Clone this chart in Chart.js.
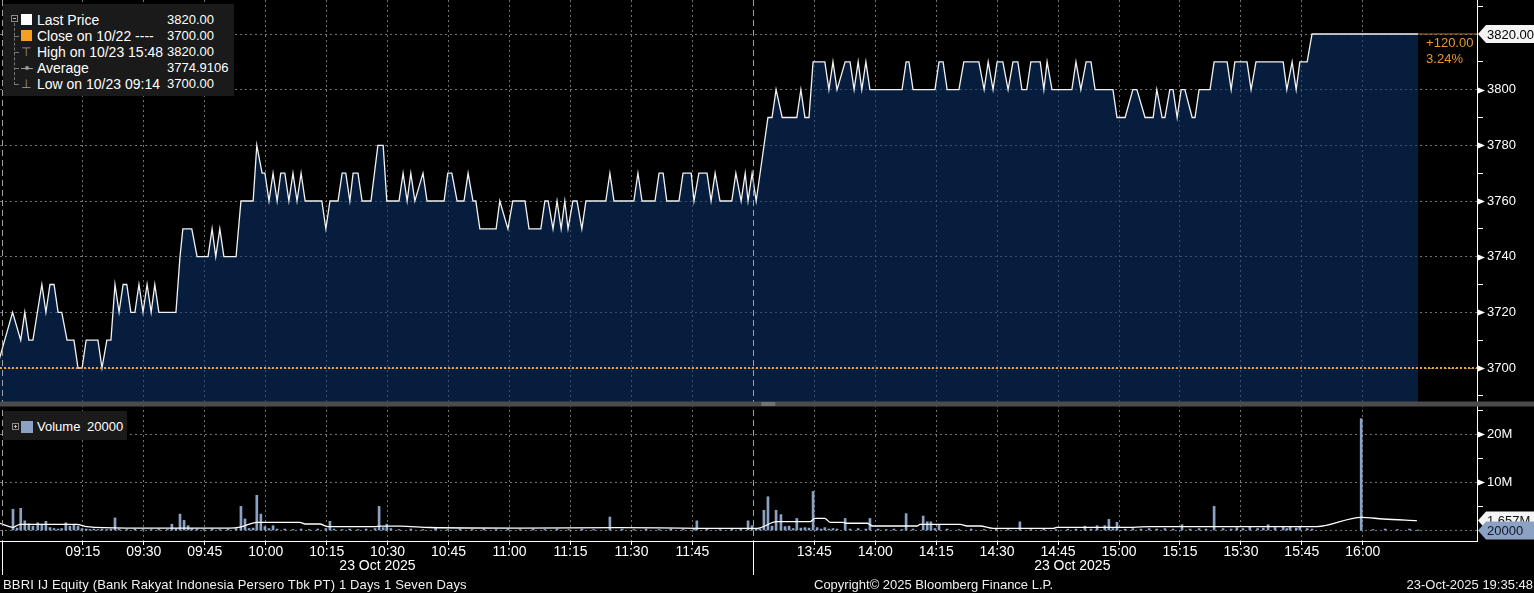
<!DOCTYPE html>
<html lang="en">
<head>
<meta charset="UTF-8">
<title>BBRI IJ Equity - intraday</title>
<script src="https://cdn.jsdelivr.net/npm/chart.js"></script>
<style>
    body {
        margin: 0;
        width: 1534px;
        height: 593px;
        overflow: hidden;
        position: relative;
        background: #000;
        color: #fff;
        font-family: "Liberation Sans", Arial, sans-serif;
    }
    #chart { position: absolute; left: 0; top: 0; }
    .legend {
        position: absolute;
        background: #1a1a1a;
        font-size: 14px;
        line-height: 16px;
        white-space: nowrap;
    }
    .legend span { position: absolute; }
    .sq { position: absolute; width: 11px; height: 11px; }
    .expander {
        position: absolute; width: 5px; height: 5px;
        border: 1px solid #8a8a8a; font-size: 0;
    }
    .expander::after {
        content: ""; position: absolute; left: 1px; top: 2px; width: 3px; height: 1px; background: #bbb;
    }
    .expander.plus::before {
        content: ""; position: absolute; left: 2px; top: 1px; width: 1px; height: 3px; background: #bbb;
    }
    .tree { position: absolute; border-left: 1px dashed #777; }
    .branch { position: absolute; border-top: 1px dashed #777; width: 5px; }
    .glyph { color: #9a9a9a; font-size: 12px; }
    .footer {
        position: absolute; top: 577px; font-size: 13px; line-height: 15px; color: #f0f0f0; white-space: nowrap;
    }
</style>
</head>
<body>
<canvas id="chart" width="1534" height="593"></canvas>

<div id="priceLegend" class="legend" style="left:3px;top:4px;width:231px;height:92px;"></div>
<div id="volLegend" class="legend" style="left:3px;top:411px;width:124px;height:29px;"></div>

<div class="footer" style="left:3px;letter-spacing:0.15px;">BBRI IJ Equity (Bank Rakyat Indonesia Persero Tbk PT) 1 Days 1 Seven Days</div>
<div class="footer" style="left:814px;">Copyright© 2025 Bloomberg Finance L.P.</div>
<div class="footer" style="right:1px;">23-Oct-2025 19:35:48</div>

<script>
    // times are trading minutes since 09:00, with the 12:00-13:30 lunch break removed
    const priceTimes = [
        -6.2, -2.3, -0.3, 0.7, 1.7, 2.7, 4.9, 5.9, 6.9, 7.9, 8.9, 9.8, 11.1, 12.8, 13.8, 14.8,
        15.8, 18.7, 19.7, 20.9, 21.9, 22.9, 23.9, 24.9, 25.8, 26.8, 27.8, 28.8, 29.8, 30.8, 31.8, 32.7,
        33.7, 37.9, 38.9, 39.6, 41.8, 43.1, 45.8, 46.8, 47.7, 48.7, 49.7, 52.7, 53.9, 56.9, 57.8, 59.1,
        59.8, 60.8, 61.8, 62.8, 63.7, 64.7, 65.7, 66.7, 67.7, 68.7, 69.7, 73.8, 74.8, 75.8, 77.8, 78.8,
        79.7, 80.7, 81.5, 82.7, 83.7, 85.9, 87.6, 88.9, 89.8, 92.8, 93.8, 94.8, 95.7, 96.7, 98.7, 99.7,
        103.9, 104.8, 105.8, 107.1, 108.8, 109.8, 111.0, 111.7, 112.7, 116.7, 117.6, 119.6, 120.8, 123.8, 124.8, 127.7,
        128.7, 129.5, 130.7, 131.7, 132.7, 133.6, 134.4, 135.6, 136.6, 137.8, 138.8, 143.7, 144.7, 145.7, 150.6, 151.6,
        152.6, 155.8, 156.8, 157.8, 158.7, 161.7, 162.7, 164.7, 165.4, 166.6, 168.6, 169.6, 170.6, 171.8, 174.7, 175.7,
        177.0, 178.0, 178.7, 179.7, 180.7, 183.6, 184.6, 185.6, 187.1, 190.7, 191.7, 192.7, 193.7, 194.7, 197.6, 198.6,
        199.6, 200.6, 202.6, 203.8, 204.8, 205.8, 206.7, 207.7, 208.7, 216.6, 217.6, 218.3, 219.3, 224.7, 225.7, 226.7,
        227.7, 230.6, 231.8, 235.5, 236.8, 237.8, 239.0, 240.0, 241.4, 242.7, 243.9, 245.1, 246.1, 247.3, 248.3, 250.6,
        251.5, 252.3, 253.5, 258.4, 259.4, 260.6, 261.9, 263.1, 264.1, 268.5, 269.5, 271.5, 273.4, 274.4, 276.4, 278.4,
        279.3, 280.6, 281.3, 282.5, 283.3, 284.3, 285.3, 286.2, 288.0, 288.7, 289.7, 292.4, 293.4, 296.6, 297.6, 298.5,
        301.5, 302.5, 303.7, 310.4, 311.3, 312.6, 313.6, 314.5, 316.3, 317.5, 343.6
    ];
    const priceValues = [
        3700, 3720, 3710, 3720, 3710, 3710, 3730, 3720, 3730, 3730, 3720, 3720, 3710, 3710, 3700, 3700,
        3710, 3710, 3700, 3710, 3710, 3730, 3720, 3730, 3730, 3720, 3720, 3730, 3720, 3730, 3720, 3730,
        3720, 3720, 3740, 3750, 3750, 3740, 3740, 3750, 3740, 3750, 3740, 3740, 3760, 3760, 3780, 3770,
        3770, 3760, 3770, 3760, 3770, 3770, 3760, 3770, 3760, 3770, 3760, 3760, 3750, 3760, 3760, 3770,
        3770, 3760, 3770, 3770, 3760, 3760, 3780, 3780, 3760, 3760, 3770, 3760, 3770, 3760, 3770, 3760,
        3760, 3770, 3770, 3760, 3760, 3770, 3760, 3760, 3750, 3750, 3760, 3750, 3760, 3760, 3750, 3750,
        3760, 3760, 3750, 3760, 3750, 3760, 3750, 3760, 3760, 3750, 3760, 3760, 3770, 3760, 3760, 3770,
        3760, 3760, 3770, 3770, 3760, 3760, 3770, 3770, 3760, 3770, 3770, 3760, 3770, 3760, 3760, 3770,
        3760, 3770, 3760, 3770, 3760, 3790, 3790, 3800, 3790, 3790, 3800, 3790, 3790, 3810, 3810, 3800,
        3810, 3800, 3810, 3810, 3800, 3810, 3800, 3810, 3800, 3800, 3810, 3810, 3800, 3800, 3810, 3810,
        3800, 3800, 3810, 3810, 3800, 3810, 3800, 3810, 3810, 3800, 3810, 3810, 3800, 3800, 3810, 3810,
        3800, 3810, 3800, 3800, 3810, 3800, 3810, 3810, 3800, 3800, 3790, 3790, 3800, 3800, 3790, 3790,
        3800, 3790, 3790, 3800, 3800, 3790, 3800, 3800, 3790, 3790, 3800, 3800, 3810, 3810, 3800, 3810,
        3810, 3800, 3810, 3810, 3800, 3810, 3800, 3810, 3810, 3820, 3820
    ];

    // volume per minute, millions of shares
    const volumeTimes = [
        -2.2, -1.2, -0.3, 0.7, 1.7, 2.7, 3.9, 4.9, 5.9, 6.9, 7.9, 8.9, 9.8, 10.8, 11.8, 12.8,
        13.8, 14.8, 15.8, 16.7, 17.7, 18.7, 19.7, 20.9, 21.9, 22.9, 23.9, 25.8, 27.8, 29.8, 31.8, 33.7,
        35.8, 36.9, 37.9, 38.9, 39.9, 40.9, 41.8, 43.1, 44.8, 46.8, 48.7, 50.7, 52.7, 53.9, 54.9, 55.9,
        56.9, 57.8, 58.8, 59.8, 60.8, 61.8, 62.8, 64.7, 66.7, 68.7, 70.7, 72.8, 74.8, 75.8, 76.8, 78.8,
        80.7, 82.7, 84.7, 86.9, 87.9, 88.9, 89.8, 90.8, 92.8, 95.7, 98.7, 101.8, 104.8, 107.8, 110.8, 113.7,
        116.7, 119.6, 122.6, 125.8, 128.7, 131.7, 134.6, 137.8, 140.7, 144.7, 147.7, 150.6, 153.6, 156.8, 159.7, 162.7,
        165.4, 166.1, 168.6, 171.8, 174.7, 176.9, 178.7, 179.7,
        180.7, 181.6, 182.6, 183.6, 184.6, 185.6, 186.8, 187.8, 188.8, 189.8, 190.7, 191.7, 192.7, 193.7, 194.7, 195.7,
        196.7, 197.6, 198.6, 199.6, 200.6, 202.6, 203.8, 205.8, 207.7, 208.7, 210.7, 212.7, 214.6, 216.6, 217.6, 219.3,
        221.8, 222.8, 223.7, 224.7, 225.7, 227.7, 230.6, 233.6, 236.8, 239.8, 242.7, 245.6, 248.3, 251.5, 254.5, 257.4,
        259.4, 261.6, 263.1, 264.6, 266.5, 267.5, 268.5, 269.5, 271.5, 273.4, 275.4, 277.4, 279.3, 281.3, 283.3, 285.5,
        287.5, 289.7, 291.4, 293.4, 295.6, 297.6, 299.0, 300.5, 302.2, 304.1, 305.5, 306.7, 308.4, 310.4, 311.3, 312.1,
        313.6, 314.5, 316.3, 317.5, 329.6, 332.5, 335.5, 338.5, 341.5, 343.6
    ];
    const volumeValues = [
        4.4, 0.5, 4.6, 2.0, 1.4, 0.9, 1.6, 1.3, 1.9, 0.6, 0.4, 0.3, 0.4, 1.6, 0.9, 1.1,
        0.9, 0.4, 0.3, 0.2, 0.3, 0.2, 0.3, 0.2, 0.3, 2.6, 0.3, 0.2, 0.3, 0.2, 0.2, 0.3,
        0.2, 1.3, 0.4, 3.4, 2.1, 1.0, 0.4, 0.3, 0.2, 0.3, 0.2, 0.3, 0.4, 5.0, 2.4, 0.4,
        0.5, 7.3, 3.4, 0.8, 0.4, 1.0, 0.3, 0.3, 0.2, 0.3, 0.2, 0.3, 0.4, 1.9, 0.3, 0.2,
        0.3, 0.2, 0.3, 0.4, 5.0, 0.6, 1.3, 0.4, 0.2, 0.3, 0.2, 0.5, 0.2, 0.3, 0.2, 0.3,
        0.2, 0.3, 0.2, 0.3, 0.2, 0.3, 0.2, 0.3, 0.2, 2.8, 0.3, 0.2, 0.3, 0.2, 0.3, 0.2,
        0.3, 2.0, 0.3, 0.2, 0.3, 0.4, 2.0, 1.0,
        0.3, 0.4, 4.2, 7.0, 0.9, 4.2, 3.3, 0.8, 0.9, 0.4, 2.5, 0.5, 0.6, 0.5, 8.1, 0.6,
        0.3, 0.6, 0.3, 0.4, 0.3, 2.5, 0.3, 0.4, 0.3, 2.5, 0.3, 0.2, 0.3, 0.2, 3.5, 0.3,
        3.0, 1.8, 1.8, 0.4, 1.1, 0.3, 0.2, 0.3, 0.2, 0.3, 0.2, 1.8, 0.2, 0.3, 0.2, 0.3,
        0.3, 0.9, 0.3, 1.0, 1.0, 2.3, 0.4, 1.7, 0.3, 0.4, 0.3, 0.4, 0.3, 0.4, 0.3, 1.2,
        0.3, 0.4, 0.3, 5.0, 0.4, 0.3, 0.6, 0.4, 0.8, 0.4, 0.5, 1.2, 0.6, 0.8, 0.4, 0.7,
        0.5, 0.8, 0.4, 0.3, 23.2, 0.2, 0.3, 0.2, 0.3, 0.02
    ];

    // volume moving average (white line), millions
    const volumeAvgTimes = [
        -5.4, -2.2, -0.5, 13.5, 16.0, 25.8, 51.2, 53.7, 57.8, 68.4, 69.7, 73.3, 75.3, 86.9, 88.1, 93.0,
        100.4, 122.6, 147.2, 166.9, 180.9, 185.8, 194.0, 195.2, 197.6, 198.9, 202.1, 203.0, 208.0, 209.4, 220.3, 221.0,
        230.9, 232.6, 235.8, 239.0, 253.8, 254.7, 273.4, 277.6, 318.7, 329.6, 335.0, 343.3
    ];
    const volumeAvgValues = [
        1.5, 0.66, 1.28, 1.28, 0.8, 0.5, 0.5, 0.7, 1.7, 1.7, 1.35, 1.35, 0.8, 0.8, 0.9, 0.9,
        0.62, 0.5, 0.6, 0.45, 0.45, 1.82, 1.82, 2.5, 2.5, 1.7, 1.7, 1.5, 1.5, 0.93, 0.93, 1.28,
        1.28, 0.93, 0.93, 0.45, 0.45, 0.66, 0.66, 0.8, 0.8, 2.73, 2.38, 2.03
    ];

    const xTickLabels = ['09:15', '09:30', '09:45', '10:00', '10:15', '10:30', '10:45', '11:00', '11:15', '11:30', '11:45',
                         '13:45', '14:00', '14:15', '14:30', '14:45', '15:00', '15:15', '15:30', '15:45', '16:00'];
    const priceTicks = [3690, 3700, 3710, 3720, 3730, 3740, 3750, 3760, 3770, 3780, 3790, 3800, 3810, 3820, 3830];
    const volumeTicks = [0, 5, 10, 15, 20, 25];
    const sessions = [['08:55', '12:00'], ['13:30', '16:07']];
    const dateLabel = '23 Oct 2025';

    const lastPrice = 3820, prevClose = 3700, dayHigh = 3820, dayLow = 3700, avgPrice = 3774.9106;
    const lastVolume = 0.02, lastVolumeAvg = 1.657;

    function sessionMin(hhmm) {
        const [h, m] = hhmm.split(':').map(Number);
        const mins = h * 60 + m;
        return mins <= 720 ? mins - 540 : 180 + mins - 810;
    }
    function clock(t) {
        const mins = Math.round(t <= 180 ? 540 + t : 810 + (t - 180));
        return String(Math.floor(mins / 60)).padStart(2, '0') + ':' + String(mins % 60).padStart(2, '0');
    }
    const toXY = (ts, vs) => ts.map((t, i) => ({ x: t, y: vs[i] }));

    // ---- legends ----
    const legendRows = [
        { icon: 'sq', color: '#ffffff', label: 'Last Price', value: lastPrice.toFixed(2) },
        { icon: 'sq', color: '#f5a023', label: 'Close on 10/22 ----', value: prevClose.toFixed(2) },
        { icon: 'hi', label: 'High on 10/23 15:48', value: dayHigh.toFixed(2) },
        { icon: 'avg', label: 'Average', value: avgPrice.toFixed(4) },
        { icon: 'lo', label: 'Low on 10/23 09:14', value: dayLow.toFixed(2) }
    ];
    const pl = document.getElementById('priceLegend');
    let html = '<div class="expander" style="left:8px;top:11px"></div>' +
               '<div class="tree" style="left:11px;top:19px;height:62px"></div>';
    legendRows.forEach((r, i) => {
        const top = 8 + i * 16;
        if (i > 0) html += `<div class="branch" style="left:11px;top:${top + 8}px"></div>`;
        if (r.icon === 'sq') html += `<div class="sq" style="left:18px;top:${top + 2}px;background:${r.color}"></div>`;
        if (r.icon === 'hi') html += `<span class="glyph" style="left:18px;top:${top}px">⊤</span>`;
        if (r.icon === 'lo') html += `<span class="glyph" style="left:18px;top:${top}px">⊥</span>`;
        if (r.icon === 'avg') html += `<div style="position:absolute;left:18px;top:${top + 8}px;width:12px;border-top:1px solid #9a9a9a"></div>` +
                                      `<div style="position:absolute;left:22px;top:${top + 6}px;width:4px;height:4px;border-radius:2px;background:#9a9a9a"></div>`;
        html += `<span style="left:34px;top:${top}px">${r.label}</span>`;
        html += `<span style="left:164px;top:${top}px;font-size:13px">${r.value}</span>`;
    });
    pl.innerHTML = html;

    document.getElementById('volLegend').innerHTML =
        '<div class="expander plus" style="left:9px;top:12px"></div>' +
        '<div class="sq" style="left:18px;top:10px;width:12px;height:12px;background:#8ca2c4"></div>' +
        '<span style="left:34px;top:8px;font-size:13px">Volume</span>' +
        `<span style="left:84px;top:8px;font-size:13px">${Math.round(lastVolume * 1e6)}</span>`;

    // ---- chart ----
    const X_MIN = -5.4, X_MAX = 358.1;
    const gridColor = 'rgba(185,185,185,0.62)';

    const overlay = {
        id: 'overlay',
        afterDatasetsDraw(chart) {
            const { ctx, chartArea, scales: { x } } = chart;
            ctx.save();
            ctx.strokeStyle = '#a0a0a0';
            ctx.lineWidth = 1;
            ctx.setLineDash([6, 4]);
            sessions.forEach(s => {
                const px = Math.round(x.getPixelForValue(sessionMin(s[0]))) + 0.5;
                ctx.beginPath(); ctx.moveTo(px, chartArea.top); ctx.lineTo(px, chartArea.bottom); ctx.stroke();
            });
            ctx.restore();
        },
        afterDraw(chart) {
            const { ctx, chartArea, scales: { x, y, yv } } = chart;
            ctx.save();

            // separator between price and volume panes
            ctx.fillStyle = '#4b4b4b';
            ctx.fillRect(0, yv.top - 4.5, chart.width, 5);
            ctx.fillStyle = '#9a9a9a';
            const hx = x.getPixelForValue(sessionMin('13:30')) + 8;
            ctx.fillRect(hx, yv.top - 3.5, 14, 1);
            ctx.fillRect(hx, yv.top - 1.5, 14, 1);

            // session separators and date under the time axis
            ctx.strokeStyle = '#ffffff';
            ctx.lineWidth = 1;
            ctx.fillStyle = '#ffffff';
            ctx.font = '14px "Liberation Sans", Arial, sans-serif';
            ctx.textAlign = 'center';
            ctx.textBaseline = 'middle';
            sessions.forEach(s => {
                const a = sessionMin(s[0]), b = sessionMin(s[1]);
                const px = Math.round(x.getPixelForValue(a)) + 0.5;
                ctx.beginPath(); ctx.moveTo(px, chartArea.bottom); ctx.lineTo(px, chartArea.bottom + 34); ctx.stroke();
                ctx.fillText(dateLabel, x.getPixelForValue((a + b) / 2), chartArea.bottom + 25);
            });

            // arrow markers on labelled axis ticks
            [y, yv].forEach(sc => {
                sc.ticks.forEach((t, i) => {
                    const lbl = sc.options.ticks.callback.call(sc, t.value, i, sc.ticks);
                    if (!lbl) return;
                    const py = Math.round(sc.getPixelForValue(t.value)) + 0.5;
                    ctx.beginPath();
                    ctx.moveTo(chartArea.right + 1, py - 3);
                    ctx.lineTo(chartArea.right + 8, py);
                    ctx.lineTo(chartArea.right + 1, py + 3);
                    ctx.closePath();
                    ctx.fill();
                });
            });

            const tag = (py, fill, textColor, text) => {
                const x0 = chartArea.right + 1, h = 18;
                ctx.beginPath();
                ctx.moveTo(x0, py);
                ctx.lineTo(x0 + 8, py - h / 2);
                ctx.lineTo(chart.width, py - h / 2);
                ctx.lineTo(chart.width, py + h / 2);
                ctx.lineTo(x0 + 8, py + h / 2);
                ctx.closePath();
                ctx.fillStyle = fill;
                ctx.fill();
                ctx.fillStyle = textColor;
                ctx.font = '13px "Liberation Sans", Arial, sans-serif';
                ctx.textAlign = 'left';
                ctx.textBaseline = 'middle';
                ctx.fillText(text, x0 + 9, py + 1);
            };
            tag(y.getPixelForValue(lastPrice), '#f4f4f4', '#000', lastPrice.toFixed(2));
            tag(yv.getPixelForValue(lastVolumeAvg) - 2, '#f4f4f4', '#111', lastVolumeAvg.toFixed(3) + 'M');
            tag(yv.getPixelForValue(lastVolume), '#8ca2c4', '#101820', String(Math.round(lastVolume * 1e6)));

            // change since previous close
            const cx = x.getPixelForValue(priceTimes[priceTimes.length - 1]) + 8;
            const cy = y.getPixelForValue(lastPrice);
            ctx.fillStyle = '#e8982f';
            ctx.font = '13px "Liberation Sans", Arial, sans-serif';
            ctx.textAlign = 'left';
            ctx.fillText('+' + (lastPrice - prevClose).toFixed(2), cx, cy + 9);
            ctx.fillText(((lastPrice - prevClose) / prevClose * 100).toFixed(2) + '%', cx, cy + 25);
            ctx.restore();
        }
    };

    Chart.defaults.font.family = '"Liberation Sans", Arial, sans-serif';
    Chart.defaults.color = '#ffffff';

    const priceTickLabel = v => (v % 20 === 0 && v !== lastPrice) ? String(v) : '';
    const volTickLabel = v => (v % 10 === 0 && v !== 0) ? v + 'M' : '';
    const fitRight = s => { s.width = 57; s.paddingTop = 0; s.paddingBottom = 0; };

    new Chart(document.getElementById('chart').getContext('2d'), {
        type: 'line',
        data: {
            datasets: [
                {
                    label: 'Close on 10/22',
                    data: [{ x: X_MIN, y: prevClose }, { x: X_MAX, y: prevClose }],
                    yAxisID: 'y', borderColor: '#f0a033', borderWidth: 2, borderDash: [2, 2],
                    pointRadius: 0, fill: false
                },
                {
                    label: 'Last',
                    data: [{ x: priceTimes[priceTimes.length - 1], y: lastPrice }, { x: X_MAX, y: lastPrice }],
                    yAxisID: 'y', borderColor: '#b8742f', borderWidth: 1, pointRadius: 0, fill: false
                },
                {
                    label: 'Last Price',
                    data: toXY(priceTimes, priceValues),
                    yAxisID: 'y', borderColor: '#f2f2f2', borderWidth: 1.3, pointRadius: 0,
                    tension: 0, fill: 'start', backgroundColor: 'rgba(10,52,108,0.56)'
                },
                {
                    label: 'Volume average',
                    data: toXY(volumeAvgTimes, volumeAvgValues),
                    yAxisID: 'yv', borderColor: '#ffffff', borderWidth: 1.3, pointRadius: 0,
                    cubicInterpolationMode: 'monotone', fill: false
                },
                {
                    type: 'bar',
                    label: 'Volume',
                    data: toXY(volumeTimes, volumeValues),
                    yAxisID: 'yv', backgroundColor: '#8ca2c4', barThickness: 2
                }
            ]
        },
        options: {
            responsive: false,
            animation: false,
            devicePixelRatio: 1,
            layout: { padding: 0 },
            plugins: { legend: { display: false }, tooltip: { enabled: false } },
            scales: {
                x: {
                    type: 'linear', min: X_MIN, max: X_MAX, offset: false,
                    afterBuildTicks: s => { s.ticks = xTickLabels.map(l => ({ value: sessionMin(l) })); },
                    afterFit: s => { s.height = 52; s.paddingLeft = 0; s.paddingRight = 0; },
                    ticks: { color: '#fff', font: { size: 14 }, padding: -1, autoSkip: false, maxRotation: 0, callback: v => clock(v) },
                    grid: { color: gridColor, offset: false, tickLength: 4, tickColor: '#fff' },
                    border: { color: '#fff', width: 1, dash: [2, 3] }
                },
                y: {
                    type: 'linear', position: 'right', stack: 'panes', stackWeight: 406,
                    min: 3686.35, max: 3832.22,
                    afterBuildTicks: s => { s.ticks = priceTicks.map(v => ({ value: v })); },
                    afterFit: fitRight,
                    ticks: { color: '#fff', font: { size: 13 }, padding: 4, autoSkip: false, callback: priceTickLabel },
                    grid: {
                        color: c => (c.tick && c.tick.value % 20 === 0) ? gridColor : 'rgba(0,0,0,0)',
                        tickLength: 6,
                        tickColor: c => (c.tick && c.tick.value % 20 === 0) ? 'rgba(0,0,0,0)' : '#fff'
                    },
                    border: { color: '#fff', width: 1, dash: [2, 3] }
                },
                yv: {
                    type: 'linear', position: 'right', stack: 'panes', stackWeight: 135,
                    min: -2.18, max: 25.83,
                    afterBuildTicks: s => { s.ticks = volumeTicks.map(v => ({ value: v })); },
                    afterFit: fitRight,
                    ticks: { color: '#fff', font: { size: 13 }, padding: 4, autoSkip: false, callback: volTickLabel },
                    grid: {
                        color: c => (c.tick && c.tick.value % 10 === 0) ? gridColor : 'rgba(0,0,0,0)',
                        tickLength: 6,
                        tickColor: c => (c.tick && c.tick.value % 10 === 0) ? 'rgba(0,0,0,0)' : '#fff'
                    },
                    border: { color: '#fff', width: 1, dash: [2, 3] }
                }
            }
        },
        plugins: [overlay]
    });
</script>
</body>
</html>
